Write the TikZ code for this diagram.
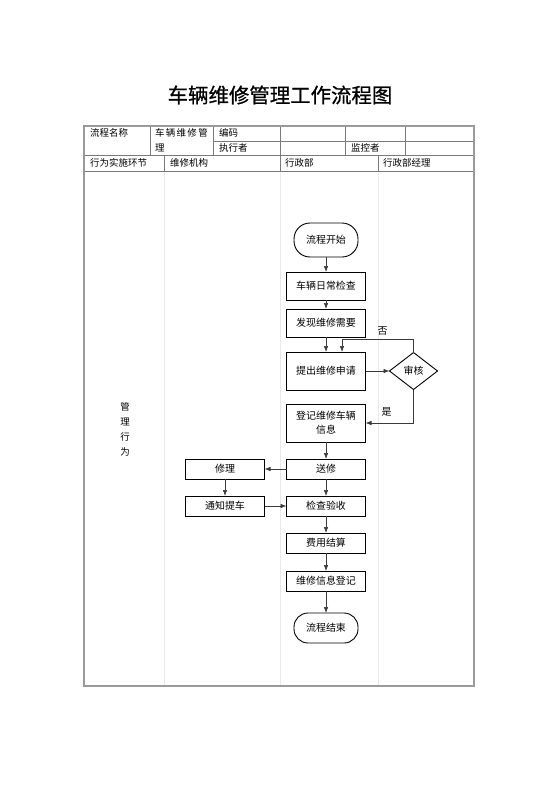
\documentclass[tikz,border=0pt]{standalone}
\usepackage{fontspec}
\setmainfont{Noto Sans CJK SC}
\newfontfamily\titlefont[FakeBold=0.8]{Noto Sans CJK SC}
\usepackage{tikz}
\usetikzlibrary{positioning,shapes.geometric,arrows.meta}
\definecolor{gridgray}{HTML}{7A7A7A}
\definecolor{framegray}{HTML}{9A9A9A}
\definecolor{lanegray}{HTML}{E4EAF0}
\definecolor{linegray}{HTML}{3A3A3A}

\begin{document}
\begin{tikzpicture}[x=1bp, y=1bp,
    procbox/.style={draw, fill=white, line width=0.9bp, minimum width=79bp, minimum height=20bp,
        inner sep=0pt, outer sep=0pt, align=center, font=\fontsize{10}{14}\selectfont},
    termbox/.style={procbox, minimum width=64bp, rounded corners=14bp},
    decbox/.style={draw, diamond, fill=white, line width=0.9bp, minimum width=48bp, minimum height=37bp,
        inner sep=0pt, outer sep=0pt, font=\fontsize{10}{14}\selectfont},
    cell/.style={anchor=west, inner sep=0pt, font=\fontsize{9.5}{12}\selectfont},
    lbl/.style={inner sep=0pt, font=\fontsize{10}{14}\selectfont},
    arr/.style={-{Latex[length=6bp,width=4.5bp]}, line width=0.6bp, linegray}]
    \useasboundingbox (0,0) rectangle (560,-792);

    \node[font=\titlefont\fontsize{20.5}{24}\selectfont] (title) at (280,-95) {车辆维修管理工作流程图};

    % table
    \draw[lanegray, line width=0.8bp] (164,-171) -- (164,-686) (280,-171) -- (280,-686) (378,-171) -- (378,-686);
    \draw[gridgray, line width=0.6bp]
    (213,-141) -- (474,-141)
    (84,-155) -- (474,-155)
    (84,-171) -- (474,-171)
    (150,-126) -- (150,-155) (213,-126) -- (213,-155) (280,-126) -- (280,-155)
    (345,-126) -- (345,-155) (405,-126) -- (405,-155)
    (164,-155) -- (164,-171) (280,-155) -- (280,-171) (378,-155) -- (378,-171);
    \draw[framegray, line width=1.3bp] (84,-126) rectangle (474,-686);

    \node[cell] (name) at (90,-133) {流程名称};
    \node[cell] (namev) at (155,-133) {车\hspace{1.3bp}辆\hspace{1.3bp}维\hspace{1.3bp}修\hspace{1.3bp}管};
    \node[cell] (namev2) at (155,-148) {理};
    \node[cell] (code) at (219,-133) {编码};
    \node[cell] (doer) at (219,-148) {执行者};
    \node[cell] (watch) at (351,-148) {监控者};
    \node[cell] (stage) at (90,-163) {行为实施环节};
    \node[cell] (shop) at (170,-163) {维修机构};
    \node[cell] (admin) at (285,-163) {行政部};
    \node[cell] (boss) at (383,-163) {行政部经理};
    \node[lbl, align=center, font=\fontsize{9.5}{15}\selectfont] (role) at (125,-429) {管\\理\\行\\为};

    % flow
    \node[termbox, minimum height=34bp, rounded corners=16bp] (start) at (326,-240) {流程开始};
    \node[procbox, minimum height=28bp, below=15bp of start] (check) {车辆日常检查};
    \node[procbox, minimum height=28bp, below=9bp of check] (find) {发现维修需要};
    \node[procbox, minimum height=38bp, below=15bp of find] (apply) {提出维修申请};
    \node[decbox, right=24bp of apply] (audit) {审核};
    \node[procbox, minimum height=38bp, below=14bp of apply] (register) {登记维修车辆\\信息};
    \node[procbox, below=17bp of register] (send) {送修};
    \node[procbox, left=22bp of send] (repair) {修理};
    \node[procbox, below=17bp of send] (accept) {检查验收};
    \node[procbox, left=22bp of accept] (notify) {通知提车};
    \node[procbox, below=17bp of accept] (settle) {费用结算};
    \node[procbox, below=18bp of settle] (record) {维修信息登记};
    \node[termbox, minimum height=30bp, below=22bp of record] (finish) {流程结束};

    \path[arr]
    (start) edge (check)
    (check) edge (find)
    (find) edge (apply)
    (apply) edge (audit)
    (register) edge (send)
    (send) edge (repair)
    (send) edge (accept)
    (repair) edge (notify)
    (notify) edge (accept)
    (accept) edge (settle)
    (settle) edge (record)
    (record) edge (finish);

    \draw[arr] (audit.north) -- ++(0,13) coordinate (nobend) -| ([xshift=16bp]apply.north);
    \draw[arr] (audit.south) |- (register.east);
    \node[lbl] (no) at ([xshift=-31bp,yshift=9bp]nobend) {否};
    \node[lbl] (yes) at ([xshift=-27bp,yshift=-22bp]audit.south) {是};
\end{tikzpicture}
\end{document}
